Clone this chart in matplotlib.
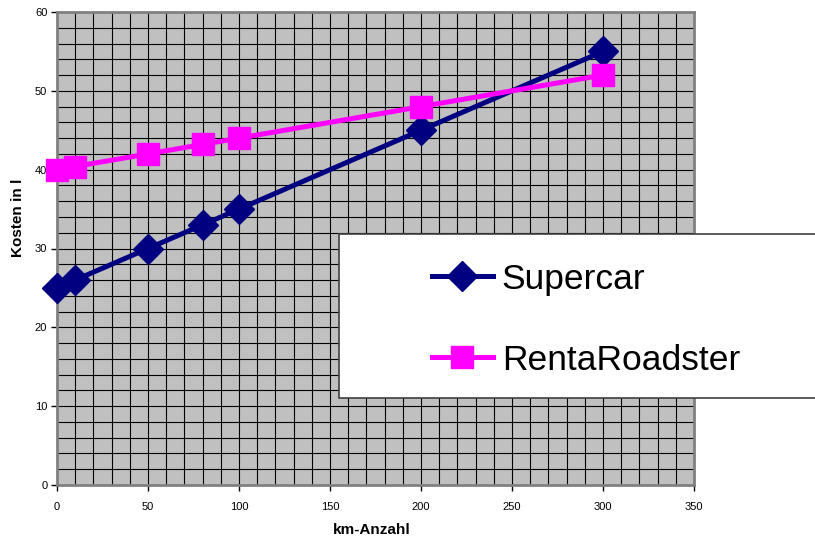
import numpy as np
import matplotlib.pyplot as plt
from matplotlib.patches import Rectangle

km         = [0, 10, 50, 80, 100, 200, 300]
supercar   = [25, 26, 30, 33, 35, 45, 55]
roadster   = [40, 40.4, 42, 43.2, 44, 48, 52]
xticks     = [0, 50, 100, 150, 200, 250, 300, 350]
yticks     = [0, 10, 20, 30, 40, 50, 60]

plt.rcParams['font.family'] = ['Liberation Sans', 'DejaVu Sans']

fig = plt.figure(figsize=(8.15, 5.39), dpi=100)
ax = fig.add_axes([57/815, 1-485/539, (694-57)/815, (485-12)/539])
ax.set_facecolor('#c0c0c0')

# grid every 10 km / every 2 units
for gx in np.arange(10, 350, 10):
    ax.axvline(gx, color='black', lw=0.8, zorder=1)
for gy in np.arange(2, 60, 2):
    ax.axhline(gy, color='black', lw=0.8, zorder=1)

ax.plot(km, supercar, color='#000080', lw=3.6, marker='D', ms=15,
        label='Supercar', zorder=3, clip_on=False)
ax.plot(km, roadster, color='#ff00ff', lw=3.6, marker='s', ms=16,
        label='RentaRoadster', zorder=3, clip_on=False)

ax.set_xlim(0, 350)
ax.set_ylim(0, 60)
ax.set_xticks(xticks)
ax.set_yticks(yticks)
ax.tick_params(axis='both', labelsize=8, length=4, width=1, direction='out', color='black')
ax.tick_params(axis='x', pad=8)
ax.tick_params(axis='y', pad=3)
for s in ax.spines.values():
    s.set_color('#808080')
    s.set_linewidth(2)

ax.set_xlabel('km-Anzahl', fontsize=11, fontweight='bold', va='center')
ax.xaxis.set_label_coords((372-57)/637, -(530-485)/473)
ax.set_ylabel('Kosten in l', fontsize=11, fontweight='bold', va='center')
ax.yaxis.set_label_coords((18-57)/637, (485-218)/473)

# legend box, running past the right edge
box = Rectangle((339/815, 1-398/539), 0.6, (398-234)/539, transform=fig.transFigure,
                facecolor='white', edgecolor='#404040', lw=1.2, zorder=5)
fig.patches.append(box)
fig.legend(loc='upper left', bbox_to_anchor=(400/815, 1-231/539), frameon=False,
           fontsize=25.5, handlelength=1.72, handletextpad=0.25, labelspacing=1.35)

plt.savefig('out.png', dpi=100)
plt.close()
